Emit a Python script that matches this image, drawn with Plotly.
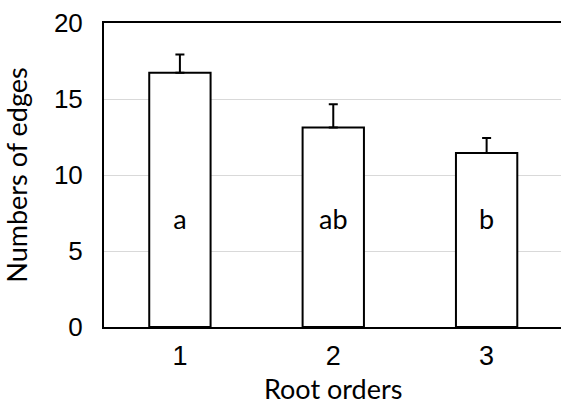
import plotly.graph_objects as go

categories = ["1", "2", "3"]
means = [16.73, 13.13, 11.44]
errors = [1.2, 1.52, 1.0]
letters = ["a", "ab", "b"]
letter_y = [6.9, 6.9, 6.9]
x_title = "Root orders"
y_title = "Numbers of edges"

fig = go.Figure()
fig.add_trace(go.Bar(
    x=categories, y=means, width=0.40,
    marker=dict(color="white", line=dict(color="black", width=2)),
    error_y=dict(type="data", symmetric=False, array=errors, arrayminus=[0, 0, 0],
                 color="black", thickness=2, width=4.5),
    showlegend=False,
))
fig.add_trace(go.Scatter(
    x=categories, y=letter_y, text=letters, mode="text",
    textfont=dict(family="Lato", size=27, color="black"),
    showlegend=False, hoverinfo="skip",
))

fig.add_annotation(
    text=x_title, xref="x domain", yref="paper", x=0.5, y=0,
    xanchor="center", yanchor="bottom", yshift=-80, showarrow=False,
    font=dict(family="Lato", size=27, color="black"),
)

fig.update_layout(
    width=561, height=406,
    margin=dict(l=104, r=0, t=23, b=79),
    plot_bgcolor="white", paper_bgcolor="white",
    xaxis=dict(type="category", range=[-0.495, 2.485], showgrid=False,
               showline=True, linecolor="black", linewidth=2, mirror=True,
               ticks="", ticklabelstandoff=4,
               tickfont=dict(family="Liberation Sans", size=27, color="black")),
    yaxis=dict(range=[0, 20], tickvals=[0, 5, 10, 15, 20], showgrid=True,
               gridcolor="#d9d9d9", gridwidth=1, zeroline=False,
               showline=True, linecolor="black", linewidth=2,
               ticks="", ticklabelstandoff=14,
               tickfont=dict(family="Liberation Sans", size=26, color="black"),
               title=dict(text=y_title, standoff=18,
                          font=dict(family="Lato", size=27, color="black"))),
)
fig.write_html("out.html")
